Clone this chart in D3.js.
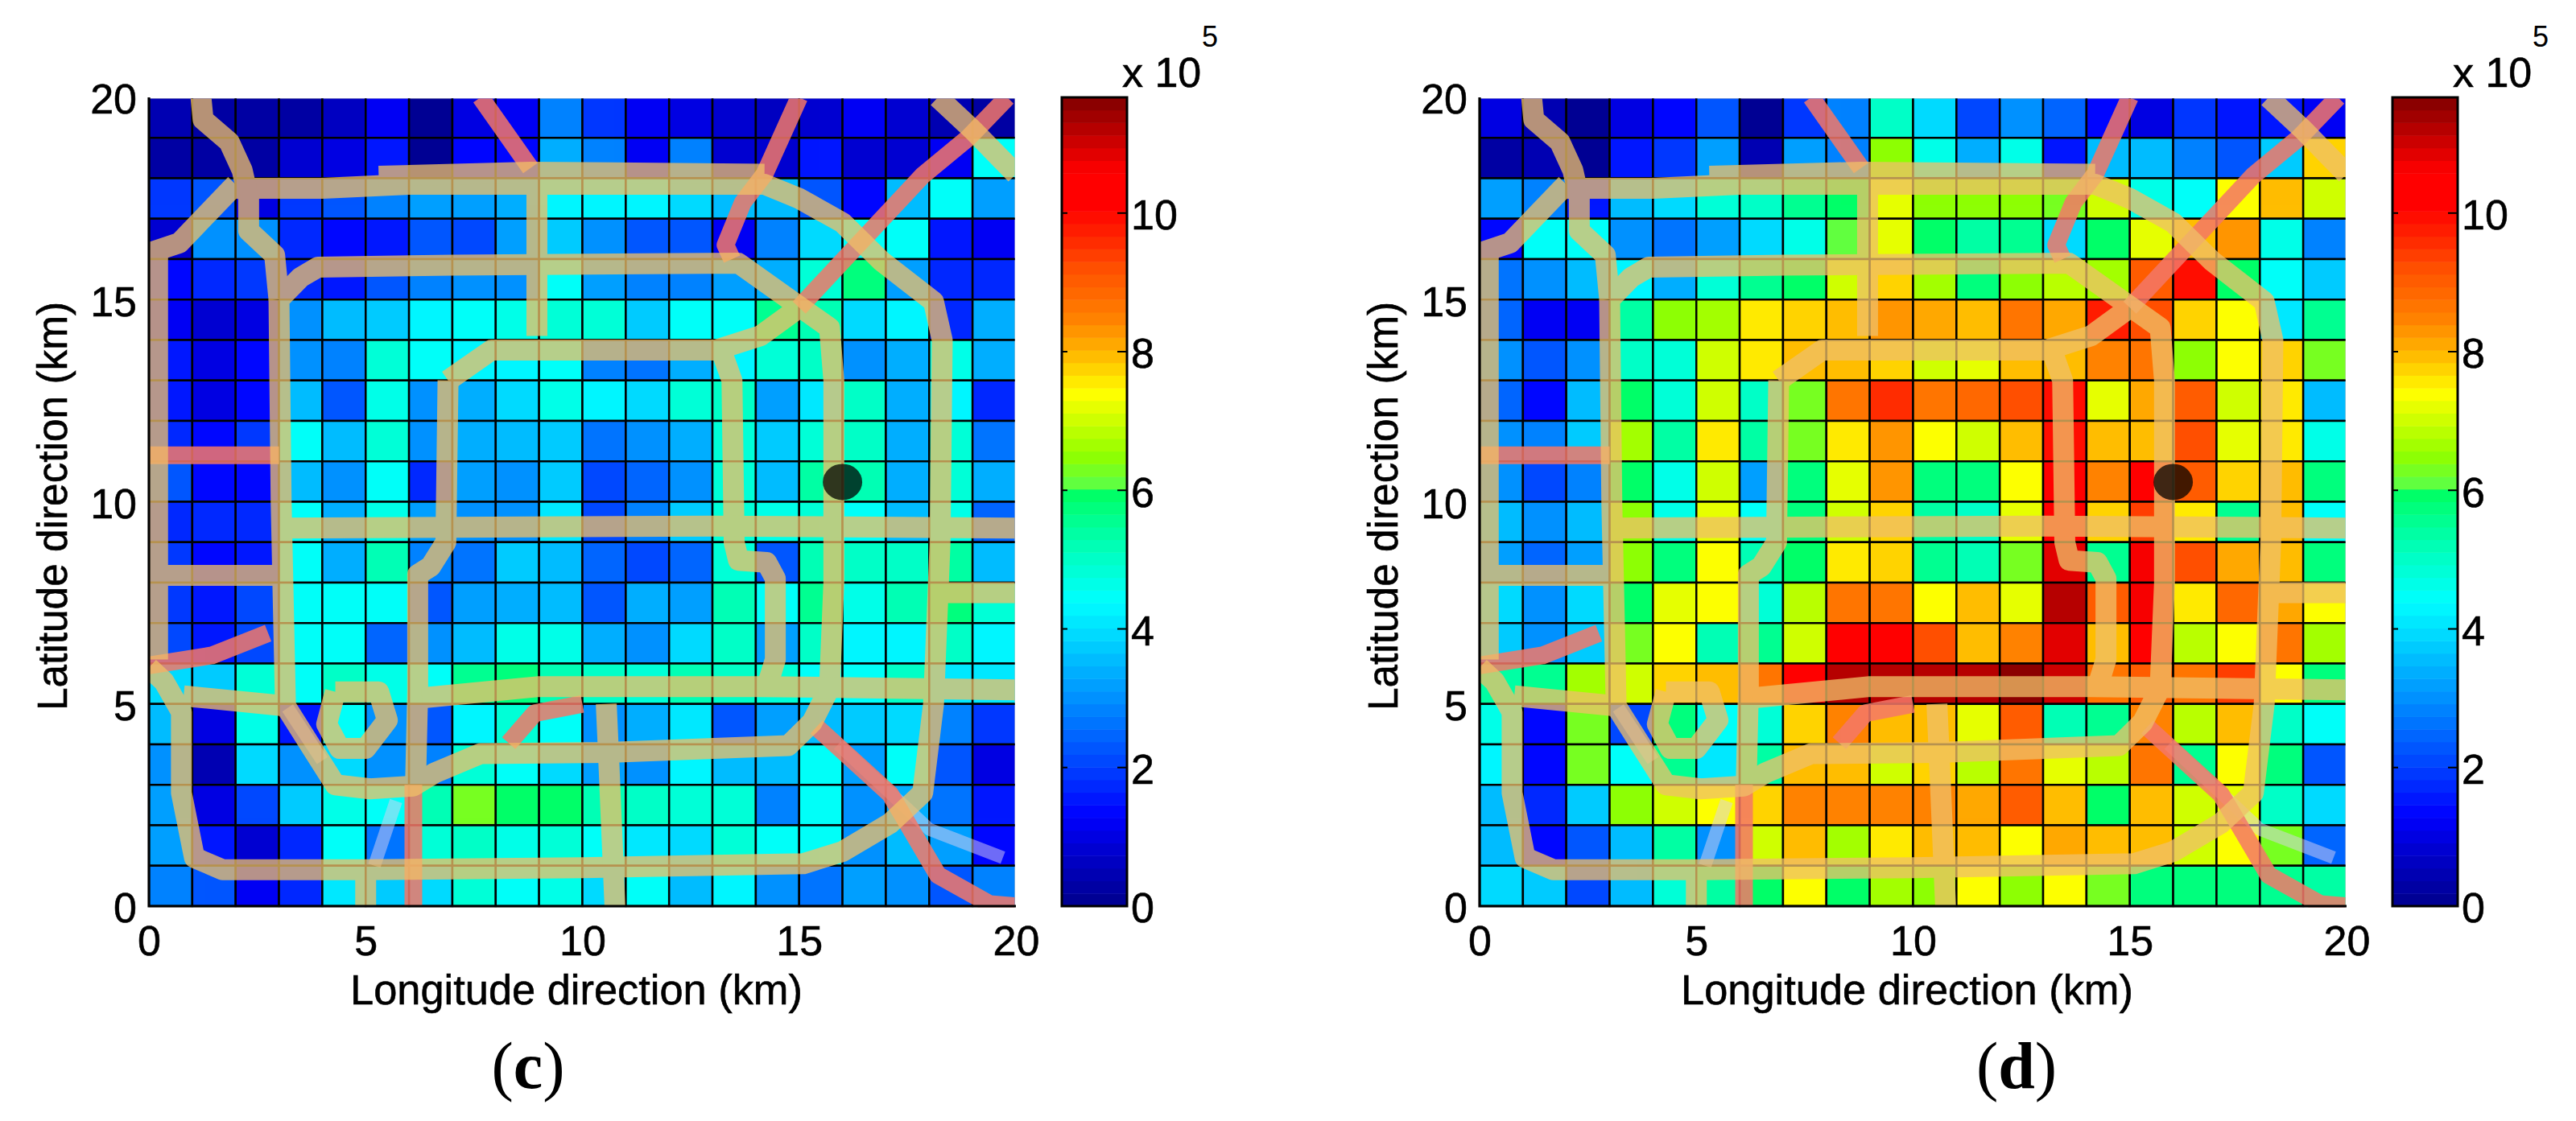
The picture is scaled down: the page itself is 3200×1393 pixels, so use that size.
<!DOCTYPE html>
<html>
<head>
<meta charset="utf-8">
<script src="https://cdn.jsdelivr.net/npm/d3@7"></script>
<style>
  html, body { margin: 0; padding: 0; background: #fff; }
  svg { display: block; }
  text { font-family: "Liberation Sans", Arial, sans-serif; fill: #000; stroke: #000; stroke-width: 0.6px; }
</style>
</head>
<body>
<svg id="chart" width="3200" height="1393"></svg>
<script>
// traffic values, x 10^5, rows run north to south (20 km down to 0 km)
const valuesC = [
  [0.4,0.2,0.2,0.3,0.7,1.2,0.1,1.0,1.2,2.8,1.9,1.2,1.0,0.9,0.7,0.8,1.2,0.8,0.5,0.3],
  [0.2,0.2,0.2,0.9,1.0,1.6,0.1,1.4,1.3,3.3,2.8,1.2,2.8,0.9,0.8,1.5,0.8,0.8,1.2,4.4],
  [1.9,2.2,1.0,1.9,2.3,2.8,3.2,3.2,3.4,4.2,4.2,4.3,4.0,3.5,3.5,2.3,1.4,3.5,4.4,3.2],
  [0.9,3.0,3.0,1.7,1.3,1.6,2.2,2.1,3.2,3.8,3.0,2.3,2.3,1.1,2.9,4.0,4.4,4.4,1.6,1.2],
  [1.3,1.7,1.9,1.7,1.5,2.3,2.8,3.0,3.0,4.4,3.2,2.8,2.8,3.2,3.3,4.9,5.8,3.2,1.7,1.7],
  [1.2,0.9,1.0,3.0,3.5,3.7,4.2,4.4,4.7,4.9,4.8,3.8,4.4,4.4,5.5,5.2,4.0,4.2,1.7,3.3],
  [1.5,1.0,1.3,3.0,2.8,4.9,4.4,4.2,4.3,4.4,2.9,2.6,3.3,4.2,4.9,5.0,3.0,3.3,4.6,3.4],
  [1.5,1.0,1.3,3.5,2.3,4.7,3.0,3.4,4.0,4.6,4.2,4.0,4.9,5.0,3.1,4.1,5.1,3.4,4.2,1.7],
  [1.7,1.3,1.9,4.4,3.6,4.9,3.0,3.4,3.6,3.8,2.6,3.0,3.3,4.9,3.8,4.8,5.0,3.3,4.9,2.6],
  [2.3,1.4,1.4,3.5,3.0,4.4,1.7,3.2,3.0,3.7,2.1,2.5,3.0,4.9,3.5,5.4,5.2,3.3,4.9,3.4],
  [1.7,1.7,1.7,4.4,3.4,4.6,3.2,3.0,3.0,4.1,2.1,2.8,3.7,4.9,4.6,4.8,4.4,3.6,4.7,2.4],
  [1.9,1.3,1.5,4.4,3.4,5.2,2.8,2.7,3.7,3.6,2.5,2.1,2.5,4.8,2.3,5.2,5.0,5.0,5.3,3.6],
  [1.9,1.5,2.1,4.4,4.5,4.4,2.3,3.2,3.4,3.6,2.3,3.4,3.1,5.2,4.4,5.5,4.7,5.2,5.7,4.8],
  [2.1,1.6,2.1,4.4,4.5,2.5,3.0,3.6,4.6,4.7,3.3,3.0,4.0,5.1,3.1,5.0,4.2,4.2,5.0,4.3],
  [4.0,3.8,4.9,4.4,5.1,4.7,4.4,5.5,5.8,5.2,5.0,4.9,5.2,5.0,4.8,4.4,4.4,5.0,4.1,4.1],
  [3.6,1.0,4.6,1.5,4.4,3.0,2.3,4.2,4.8,4.4,3.0,3.3,4.1,2.2,3.1,3.5,3.8,3.9,2.8,1.9],
  [3.0,0.4,4.0,3.0,4.0,3.0,2.9,4.9,4.4,3.9,3.1,3.0,4.2,3.6,3.5,4.4,3.1,4.5,2.3,1.0],
  [3.1,1.0,2.1,3.8,4.6,4.4,5.2,6.3,6.0,5.9,5.2,5.0,4.8,4.8,2.8,4.4,3.0,3.3,2.6,1.6],
  [3.1,1.5,0.9,1.8,4.4,2.6,4.9,5.1,4.6,4.8,4.4,4.1,3.9,4.8,4.4,4.5,3.0,3.6,3.2,1.3],
  [2.9,2.2,1.1,1.7,4.1,3.7,3.9,4.8,4.5,4.7,4.0,4.4,3.5,4.2,3.0,2.7,3.2,3.0,2.3,2.8]
];

const valuesD = [
  [1.0,0.4,0.1,1.0,1.4,2.2,0.1,1.9,2.8,5.0,4.0,2.1,3.0,2.5,1.3,1.0,1.9,1.5,1.5,1.2],
  [0.2,0.5,0.1,1.5,1.9,3.1,0.4,3.1,2.9,6.4,4.7,3.3,4.6,1.5,3.5,3.5,2.8,2.3,3.7,7.7],
  [3.1,2.9,1.5,3.5,3.9,4.8,5.1,5.6,6.0,7.2,6.4,6.4,6.4,6.2,7.0,4.7,4.4,7.4,8.0,7.0],
  [1.3,4.4,4.4,3.0,2.7,3.2,4.0,4.7,6.1,7.2,5.9,5.3,5.6,3.9,5.9,7.2,7.9,8.3,4.6,2.8],
  [2.6,3.0,3.5,4.3,3.3,4.8,5.6,6.0,7.0,7.7,6.7,5.8,6.4,6.8,6.6,9.0,9.9,5.9,4.4,3.8],
  [2.5,1.1,1.2,5.3,6.4,6.7,7.6,7.8,8.0,8.3,8.1,8.0,8.6,8.1,9.7,9.2,7.7,7.4,4.1,5.6],
  [3.0,2.2,3.0,5.1,4.8,7.0,7.6,7.9,8.0,7.8,7.0,7.2,7.9,8.0,8.4,8.6,6.4,7.4,7.7,6.2],
  [2.5,1.3,3.5,5.9,4.8,7.0,5.0,6.3,8.6,9.6,8.6,8.9,9.2,9.9,7.2,8.1,9.0,7.0,7.5,3.5],
  [3.0,2.8,3.7,6.7,5.4,7.6,5.4,6.2,7.6,8.3,7.4,7.0,7.9,9.9,8.0,8.0,9.2,7.2,7.5,4.7],
  [3.0,2.1,2.8,5.9,4.7,7.0,3.2,5.7,7.2,8.3,5.7,5.7,7.4,10.2,8.5,10.2,9.0,7.8,7.9,5.7],
  [3.5,3.0,3.5,6.4,4.7,7.2,4.4,5.8,7.0,7.7,5.3,5.0,7.2,10.4,7.8,9.3,7.6,5.5,7.9,4.4],
  [3.2,2.5,3.2,6.4,5.8,7.4,5.2,5.9,7.5,7.7,5.6,5.2,6.2,10.9,5.6,10.6,9.2,8.1,7.9,5.7],
  [4.0,3.0,4.0,5.9,7.2,7.4,4.9,6.8,8.6,8.6,7.4,7.9,7.2,11.3,9.0,10.6,7.5,8.9,8.2,7.4],
  [3.8,3.0,3.8,6.2,7.4,5.2,5.5,7.0,10.2,10.2,9.2,7.9,8.4,10.9,7.9,10.5,6.8,7.4,8.6,6.7],
  [5.4,5.5,6.7,7.1,7.7,7.9,8.6,10.3,11.3,11.2,11.2,11.2,11.5,11.1,8.6,9.0,8.6,9.4,7.4,5.8],
  [4.6,1.4,6.2,2.1,5.8,4.4,4.9,7.8,8.4,8.0,8.0,7.2,9.0,5.2,5.5,8.5,6.8,7.9,5.1,4.5],
  [4.3,1.3,6.2,4.4,5.5,4.1,5.3,8.0,8.0,7.0,7.8,6.8,8.6,7.2,6.9,8.6,5.5,7.4,5.7,2.3],
  [3.5,1.8,3.7,6.4,7.1,7.4,7.8,8.5,8.4,8.5,8.4,8.2,9.0,7.9,5.9,8.0,7.0,7.2,5.1,4.0],
  [3.5,1.3,2.3,3.5,5.4,3.0,7.0,8.0,6.7,7.6,7.9,8.0,7.4,8.1,8.0,7.9,7.0,7.4,6.2,2.4],
  [3.9,3.8,2.1,3.6,4.8,5.4,5.9,7.4,5.9,6.7,6.4,7.4,6.4,7.4,6.2,5.7,5.8,5.7,5.6,5.4]
];

const axisTicks = [0, 5, 10, 15, 20];
const colorbarTicks = [0, 2, 4, 6, 8, 10];
const colorMax = 11.67;
const colorLevels = 64;
const colorStops = [0, 0.9, 1.3, 2, 3, 3.5, 4, 4.4, 5, 5.5, 6, 6.1, 6.5, 7, 7.4, 8, 8.5, 9.2, 9.7, 10.1, 10.6, 11, 11.67];
const colorValues = ['#00008c','#0000d8','#0000ff','#0040ff','#0090ff','#00b8ff','#00e0ff','#00ffff','#00ffc8','#00ff98','#00ff60','#60ff40','#90ff00','#ccff00','#ffff00','#ffb400','#ff8000','#ff5000','#ff2000','#ff0000','#ff0000','#d00000','#800000'];

// road map over the grid, in km
const tanRoads = [
  [[2.0,17.75],[4,17.75],[6,17.85],[8.9,17.85],[14.2,17.85],[15,17.5],[16,16.9],[16.9,15.95],[18.1,14.95],[18.3,14],[18.25,9],[18.1,5],[17.85,2.8],[17.1,2.05],[16,1.35],[15.1,1.05],[10,0.95],[5,0.9],[1.7,0.9],[1.05,1.2],[0.75,2.8],[0.75,4.8],[0.35,5.55],[0,5.9]],
  [[5.3,18.05],[8.8,18.15],[14.2,18.1]],
  [[3.0,15],[3.5,15.55],[3.9,15.8],[7,15.85],[13.6,15.9],[15.7,14.3],[15.8,13],[15.8,8],[15.7,5.4],[15.3,4.55],[14.75,3.97],[10.6,3.8],[7.65,3.77],[6.6,3.3],[6.1,2.97],[5.1,2.9],[4.3,3],[3.65,4.1],[3.15,4.95],[3.05,10],[3,15]],
  [[6.9,13],[7.9,13.75],[13.2,13.75],[13.45,13],[13.5,9],[13.6,8.55],[14.25,8.5],[14.45,8.1],[14.45,6.1],[14.25,5.4]],
  [[6.9,13],[6.85,9],[6.5,8.4],[6.2,8.2],[6.2,5.3],[6.15,3]],
  [[6.3,5.15],[9,5.43],[14.1,5.43],[20,5.35]],
  [[2.9,9.35],[13,9.4],[20,9.35]],
  [[0,8.18],[3,8.18]],
  [[0.2,16.1],[0.2,6.1]],
  [[1.2,20],[1.25,19.45],[1.85,18.9],[2.15,18.2],[2.3,17.5],[2.3,16.7],[2.9,16.1],[3,15]],
  [[0,16.15],[0.7,16.4],[2,17.85]],
  [[8.95,18.05],[8.95,14.1]],
  [[10.55,5],[10.6,3.8],[10.75,0]],
  [[13.1,13.76],[14.1,14.1],[15,14.8]],
  [[18.2,20],[19,19.2],[20,18.1]],
  [[18.1,7.75],[20,7.75]],
  [[4.3,5.3],[5.3,5.3],[5.5,4.6],[5.0,3.9],[4.4,3.9],[4.1,4.5],[4.3,5.3]],
  [[3.15,4.95],[0.8,5.2]],
  [[5,0],[5,1]]
];

const redRoads = [
  [[7.65,20],[8.8,18.25]],
  [[15,20],[14.2,18.1],[13.7,17.4],[13.3,16.35],[13.45,16]],
  [[19.8,20],[18.9,19],[17.85,18.07],[16.7,16.75],[16,15.95],[15,14.8]],
  [[0,5.95],[1.45,6.2],[2.75,6.75]],
  [[0,11.15],[3,11.15]],
  [[15.4,4.43],[17.1,2.77],[18.2,0.77],[19.4,0.05],[20,0]],
  [[6.1,3],[6.1,0]],
  [[10,5],[8.9,4.77],[8.3,4.03]]
];

const paleRoads = [
  [[15.9,4],[18,1.9],[19.7,1.2]],
  [[5.7,2.6],[5.2,1]],
  [[3.2,4.9],[4,3.6]]
];

const marker = [16.0, 10.49];

const plotWidth = 1077;
const plotHeight = 1005;
const barWidth = 81;

const svg = d3.select('#chart');

const color = d3.scaleLinear().domain(colorStops).range(colorValues);

// the colormap has 64 flat steps
function bandColor (v) {
    let i = Math.min(colorLevels - 1, Math.floor(v / colorMax * colorLevels));
    return color((i + 0.5) * colorMax / colorLevels);
}

function stretch (sel, ratio) {
    sel.each(function () {
        let len = this.getComputedTextLength();
        d3.select(this).attr('textLength', len * ratio).attr('lengthAdjust', 'spacingAndGlyphs');
    });
}

function drawPanel (left, values, label, labelX, id) {
    let g = svg.append('g').attr('transform', 'translate(' + left + ',121)');

    let x = d3.scaleLinear().domain([0, 20]).range([0, plotWidth]);
    let y = d3.scaleLinear().domain([0, 20]).range([plotHeight, 0]);

    // image covers the top and right of the box, so no black line there
    svg.append('clipPath').attr('id', 'clip' + id)
        .append('rect')
        .attr('x', 0)
        .attr('y', 1.5)
        .attr('width', plotWidth - 1.5)
        .attr('height', plotHeight);

    let map = g.append('g').attr('clip-path', 'url(#clip' + id + ')');

    let rows = map.selectAll('.row')
        .data(values)
        .enter().append('g')
        .attr('class', 'row');

    rows.selectAll('rect')
        .data(function (d, i) {
            return d.map(function (v, j) { return { v: v, col: j, row: 19 - i }; });
        })
        .enter().append('rect')
        .attr('x', function (d) { return x(d.col); })
        .attr('y', function (d) { return y(d.row + 1); })
        .attr('width', x(1) - x(0))
        .attr('height', y(0) - y(1))
        .attr('fill', function (d) { return bandColor(d.v); })
        .attr('stroke', '#000')
        .attr('stroke-width', 2.5);

    let road = d3.line()
        .x(function (d) { return x(d[0]); })
        .y(function (d) { return y(d[1]); });

    // roads sit on top of the grid, so the lines show through brown
    let pale = map.append('g').attr('opacity', 0.5).attr('fill', 'none')
        .attr('stroke', '#dcd0f0').attr('stroke-width', 16).attr('stroke-linejoin', 'round');
    pale.selectAll('path').data(paleRoads).enter().append('path').attr('d', road);

    let red = map.append('g').attr('opacity', 0.85).attr('fill', 'none')
        .attr('stroke', '#f47868').attr('stroke-width', 22).attr('stroke-linejoin', 'round');
    red.selectAll('path').data(redRoads).enter().append('path').attr('d', road);

    let tan = map.append('g').attr('opacity', 0.76).attr('fill', 'none')
        .attr('stroke', '#f0c068').attr('stroke-width', 26).attr('stroke-linejoin', 'round');
    tan.selectAll('path').data(tanRoads).enter().append('path').attr('d', road);

    map.append('ellipse')
        .attr('cx', x(marker[0]))
        .attr('cy', y(marker[1]))
        .attr('rx', 24.5)
        .attr('ry', 22.5)
        .attr('fill', '#000')
        .attr('opacity', 0.74);

    // left and bottom axis lines
    g.append('path')
        .attr('d', 'M0,0V' + plotHeight + 'H' + plotWidth)
        .attr('fill', 'none')
        .attr('stroke', '#000')
        .attr('stroke-width', 3.2);

    // Axes
    let xAxis = g.append('g')
        .attr('transform', 'translate(0,' + plotHeight + ')')
        .call(d3.axisBottom(x).tickValues(axisTicks).tickSize(0).tickPadding(24));
    let yAxis = g.append('g')
        .call(d3.axisLeft(y).tickValues(axisTicks).tickSize(0).tickPadding(15));
    [xAxis, yAxis].forEach(function (a) {
        a.select('.domain').remove();
        a.selectAll('text').style('font-size', '52px').attr('font-family', null);
    });
    yAxis.selectAll('text').attr('dy', '0.38em');

    g.append('text')
        .attr('x', 531)
        .attr('y', 1127)
        .attr('text-anchor', 'middle')
        .style('font-size', '51px')
        .text('Longitude direction (km)')
        .call(stretch, 1.027);

    g.append('text')
        .attr('transform', 'translate(-102,508) rotate(-90)')
        .attr('text-anchor', 'middle')
        .style('font-size', '51px')
        .text('Latitude direction (km)')
        .call(stretch, 1.007);

    // Colorbar
    let bar = g.append('g').attr('transform', 'translate(' + 1134 + ',0)');
    let c = d3.scaleLinear().domain([0, colorMax]).range([plotHeight, 0]);
    let step = colorMax / colorLevels;

    bar.selectAll('rect')
        .data(d3.range(colorLevels))
        .enter().append('rect')
        .attr('x', 0)
        .attr('y', function (d) { return c((d + 1) * step); })
        .attr('width', barWidth)
        .attr('height', c(0) - c(step) + 0.5)
        .attr('fill', function (d) { return color((d + 0.5) * step); });

    bar.append('rect')
        .attr('width', barWidth)
        .attr('height', plotHeight)
        .attr('fill', 'none')
        .attr('stroke', '#000')
        .attr('stroke-width', 3);

    bar.selectAll('.cb-tick')
        .data(colorbarTicks.slice(1))
        .enter().append('path')
        .attr('class', 'cb-tick')
        .attr('d', function (d) {
            return 'M0,' + c(d) + 'h7M' + barWidth + ',' + c(d) + 'h-12';
        })
        .attr('stroke', '#000')
        .attr('stroke-width', 2);

    let barAxis = bar.append('g')
        .attr('transform', 'translate(' + barWidth + ',0)')
        .call(d3.axisRight(c).tickValues(colorbarTicks).tickSize(0).tickPadding(5));
    barAxis.select('.domain').remove();
    barAxis.selectAll('text').style('font-size', '52px').attr('font-family', null).attr('dy', '0.38em');

    bar.append('text')
        .attr('x', 75)
        .attr('y', -13)
        .style('font-size', '52px')
        .text('x 10');
    bar.append('text')
        .attr('x', 174)
        .attr('y', -63)
        .style('font-size', '36px')
        .style('stroke', 'none')
        .text('5');

    // panel label, bold letter between plain brackets
    let tag = svg.append('text')
        .attr('x', labelX)
        .attr('y', 1352)
        .attr('text-anchor', 'middle')
        .style('font-family', '"Liberation Serif", "Times New Roman", serif')
        .style('font-size', '82px')
        .style('stroke', 'none');
    tag.append('tspan').text('(');
    tag.append('tspan').style('font-weight', 'bold').text(label);
    tag.append('tspan').text(')');
}

drawPanel(185, valuesC, 'c', 656, 'C');
drawPanel(1838, valuesD, 'd', 2505, 'D');
</script>
</body>
</html>
